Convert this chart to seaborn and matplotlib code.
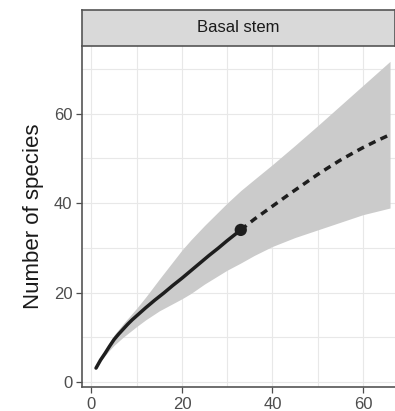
import numpy as np
import pandas as pd
import matplotlib
matplotlib.use("Agg")
import matplotlib.pyplot as plt
import seaborn as sns

# Data
obs_x = [1, 2, 3, 4, 5, 6, 7, 8, 9, 10, 12, 14, 16, 18, 20, 22, 24, 26, 28, 30, 32, 33]
obs_y = [3.1, 4.9, 6.4, 8.0, 9.5, 10.7, 11.8, 12.9, 13.9, 14.8, 16.6, 18.3, 19.9, 21.6,
         23.2, 24.9, 26.6, 28.3, 29.9, 31.6, 33.2, 34.0]
ext_x = [33, 36, 40, 44, 48, 50, 52, 55, 58, 60, 63, 66]
ext_y = [34.0, 36.4, 39.3, 42.2, 45.0, 46.4, 47.7, 49.6, 51.3, 52.4, 53.9, 55.3]
band_x = [1, 2, 3, 4, 5, 7, 10, 12, 15, 20, 22, 25, 30, 33, 36, 40, 45, 50, 55, 60, 66]
band_hi = [3.1, 5.1, 7.0, 8.8, 10.5, 13.0, 16.5, 19.0, 23.0, 29.5, 31.8, 35.0, 40.0,
           42.8, 45.3, 48.6, 52.9, 57.3, 61.8, 66.3, 71.7]
band_lo = [3.1, 4.6, 5.9, 7.1, 8.2, 10.0, 12.4, 13.9, 15.9, 18.6, 19.8, 21.9, 25.0,
           26.6, 28.3, 30.3, 32.3, 34.0, 35.7, 37.4, 38.9]
ref_x = [33]
ref_y = [34.0]
panel_title = "Basal stem"
x_ticks = [0, 20, 40, 60]
y_ticks = [0, 20, 40, 60]

sns.set_theme(style="white")
plt.rcParams['font.family'] = ['Liberation Sans', 'DejaVu Sans']

W, H = 395, 411
fig = plt.figure(figsize=(W / 100, H / 100), dpi=100)
left = 82 / W
bottom = 1 - 387.3 / H
top = 1 - 45.7 / H
ax = fig.add_axes([left, bottom, 1 - left, top - bottom])

grid_c = "#e8e8e8"
for v in [0, 10, 20, 30, 40, 50, 60]:
    ax.axvline(v, color=grid_c, lw=0.8, zorder=0)
for v in [0, 10, 20, 30, 40, 50, 60, 70]:
    ax.axhline(v, color=grid_c, lw=0.8, zorder=0)

ax.fill_between(band_x, band_lo, band_hi, color="#cbcbcb", lw=0, zorder=1)

obs = pd.DataFrame({"x": obs_x, "y": obs_y})
ext = pd.DataFrame({"x": ext_x, "y": ext_y})
sns.lineplot(data=obs, x="x", y="y", ax=ax, color="#1e1e1e", lw=2.5, zorder=3)
sns.lineplot(data=ext, x="x", y="y", ax=ax, color="#1e1e1e", lw=2.5, zorder=3,
             linestyle=(0, (2.1, 1.6)))
sns.scatterplot(x=ref_x, y=ref_y, ax=ax, color="#1e1e1e", s=78, zorder=4, edgecolor="none")

ax.set_xlim(-2.1, 67.1)
ax.set_ylim(-1.2, 75.2)
ax.set_xticks(x_ticks)
ax.set_yticks(y_ticks)
ax.set_xlabel("")
ax.set_ylabel("Number of species", fontsize=16, color="#1a1a1a", labelpad=7)
ax.tick_params(axis="both", labelsize=12, labelcolor="#4d4d4d", colors="#4d4d4d",
               length=4, width=0.9, direction="out", pad=3)
ax.tick_params(axis="x", bottom=True)
ax.tick_params(axis="y", left=True)
for s in ["left", "bottom"]:
    ax.spines[s].set_color("#555555")
    ax.spines[s].set_linewidth(1.2)
for s in ["top", "right"]:
    ax.spines[s].set_visible(False)
ax.set_facecolor("white")

# facet strip
sax = fig.add_axes([left, top, 1 - left, (45.7 - 10) / H])
sax.set_facecolor("#d9d9d9")
sax.set_xticks([])
sax.set_yticks([])
for s in sax.spines.values():
    s.set_color("#555555")
    s.set_linewidth(1.2)
sax.text(0.5, 0.5, panel_title, ha="center", va="center", fontsize=12, color="#1a1a1a",
         transform=sax.transAxes)

fig.savefig("out.png", dpi=100)
